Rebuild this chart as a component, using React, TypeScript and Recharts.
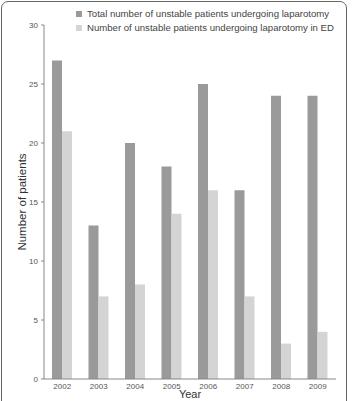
import React from "react";
import { BarChart, Bar, XAxis, YAxis, Legend } from "recharts";

// values
const years = ["2002", "2003", "2004", "2005", "2006", "2007", "2008", "2009"];
const totalLaparotomy = [27, 13, 20, 18, 25, 16, 24, 24];
const edLaparotomy = [21, 7, 8, 14, 16, 7, 3, 4];
const yTicks = [0, 5, 10, 15, 20, 25, 30];
const seriesNames = [
  "Total number of unstable patients undergoing laparotomy",
  "Number of unstable patients undergoing laparotomy in ED",
];

const DARK = "#9a9a9a";
const LIGHT = "#d4d4d4";
const FONT = "'Liberation Sans', Arial, sans-serif";

const data = years.map((year, i) => ({
  year,
  total: totalLaparotomy[i],
  ed: edLaparotomy[i],
}));

// keep the legend in series order (recharts sorts it by name otherwise)
const LegendBox = ({ payload }: any) => {
  const items = [...(payload || [])].sort(
    (a: any, b: any) => seriesNames.indexOf(a.value) - seriesNames.indexOf(b.value)
  );
  return (
    <div style={{ fontFamily: FONT, fontSize: 9.6, color: "#444", lineHeight: "14px" }}>
      {items.map((p: any) => (
        <div key={p.value} style={{ display: "flex", alignItems: "center", whiteSpace: "nowrap" }}>
          <span style={{ display: "inline-block", width: 6, height: 6, background: p.color, marginRight: 5 }} />
          {p.value}
        </div>
      ))}
    </div>
  );
};

export default function App() {
  return (
    <div style={{ position: "absolute", left: 0, top: 0, width: 352, height: 401, overflow: "hidden", background: "#fff" }}>
      <div
        style={{
          position: "absolute",
          left: 1,
          top: 1,
          width: 346,
          height: 420,
          border: "1px solid #666",
          borderRadius: 7,
          boxSizing: "border-box",
        }}
      />
      <BarChart
        width={352}
        height={401}
        data={data}
        margin={{ top: 25, right: 16, bottom: 0, left: 0 }}
        barSize={10}
        barGap={0}
      >
        <XAxis
          dataKey="year"
          height={22}
          tickLine={false}
          tickSize={0}
          tickMargin={4}
          axisLine={{ stroke: "#888" }}
          tick={{ fontSize: 8, fill: "#555", fontFamily: FONT }}
          label={{ value: "Year", position: "insideBottom", offset: 3, style: { fontSize: 11, fill: "#333", fontFamily: FONT } }}
        />
        <YAxis
          width={44}
          domain={[0, 30]}
          ticks={yTicks}
          tickSize={3}
          tickMargin={3}
          axisLine={{ stroke: "#888" }}
          tickLine={{ stroke: "#888" }}
          tick={{ fontSize: 8, fill: "#555", fontFamily: FONT }}
          label={{ value: "Number of patients", angle: -90, position: "center", style: { fontSize: 11.5, fill: "#333", fontFamily: FONT, textAnchor: "middle" } }}
        />
        <Legend
          layout="vertical"
          align="center"
          verticalAlign="middle"
          wrapperStyle={{ top: 7, left: 76, width: "auto" }}
          content={<LegendBox />}
        />
        <Bar dataKey="total" name={seriesNames[0]} fill={DARK} isAnimationActive={false} />
        <Bar dataKey="ed" name={seriesNames[1]} fill={LIGHT} isAnimationActive={false} />
      </BarChart>
    </div>
  );
}
